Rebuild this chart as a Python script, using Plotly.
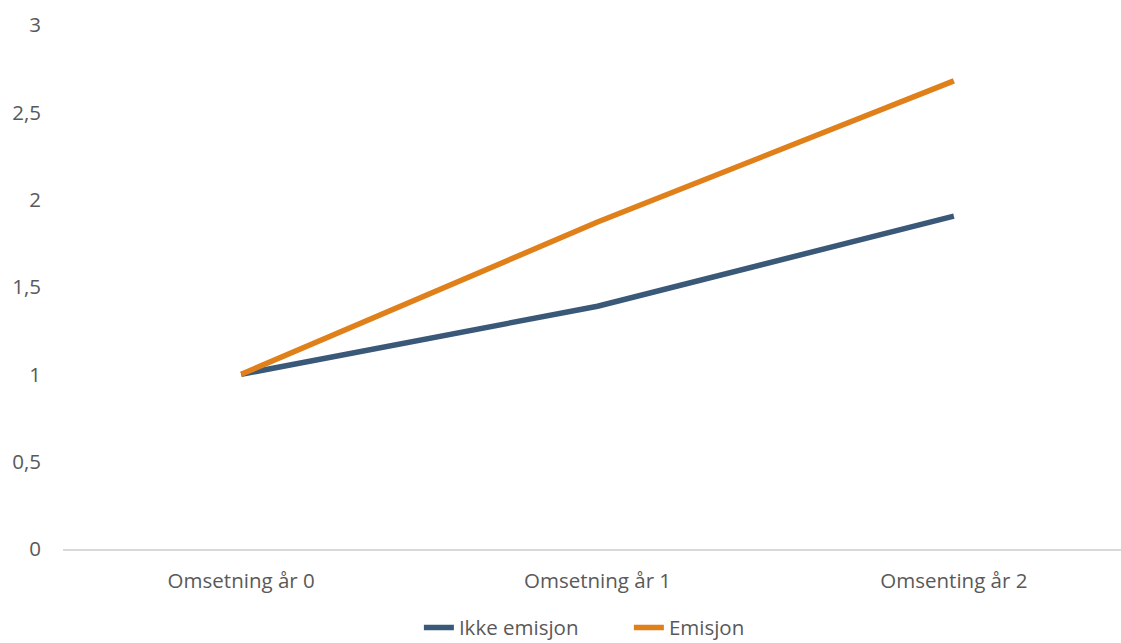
import plotly.graph_objects as go

categories = ["Omsetning år 0", "Omsetning år 1", "Omsenting år 2"]
ikke_emisjon = [1.0, 1.39, 1.906]
emisjon = [1.0, 1.872, 2.68]
y_ticks = [0, 0.5, 1, 1.5, 2, 2.5, 3]

x = list(range(len(categories)))
font_family = "Open Sans, Noto Sans, sans-serif"
grey = "#595959"
fs = 20.5

fig = go.Figure()
fig.add_trace(go.Scatter(x=x, y=ikke_emisjon, mode="lines", name="Ikke emisjon",
                         line=dict(color="#3A5878", width=5.5)))
fig.add_trace(go.Scatter(x=x, y=emisjon, mode="lines", name="Emisjon",
                         line=dict(color="#E0801A", width=5.5)))

fig.update_layout(
    width=1121, height=643,
    margin=dict(l=63, r=0, t=25, b=94, autoexpand=False),
    plot_bgcolor="white", paper_bgcolor="white",
    separators=", ",
    font=dict(family=font_family, size=fs, color=grey),
    showlegend=True,
    legend=dict(orientation="h", xref="container", yref="container",
                x=0.561, xanchor="center", y=0.024, yanchor="middle",
                entrywidth=165, entrywidthmode="pixels",
                font=dict(size=fs, color=grey), traceorder="normal"),
)
fig.update_xaxes(
    range=[-0.5, 2.469], tickvals=x, ticktext=categories, automargin=False,
    showgrid=False, zeroline=False, showline=True, linecolor="#D9D9D9", linewidth=1.5,
    ticks="", ticklabelstandoff=13, tickfont=dict(size=fs, color=grey),
)
fig.update_yaxes(
    range=[0, 3], tickvals=y_ticks, showgrid=False, zeroline=False, showline=False,
    automargin=False,
    ticks="", ticklabelstandoff=21, tickfont=dict(size=fs, color=grey),
)

fig.write_html("out.html")
